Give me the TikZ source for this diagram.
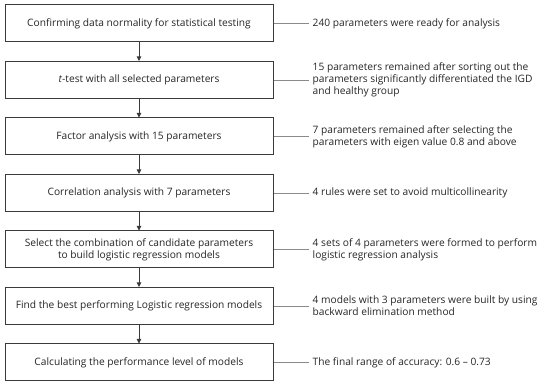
\documentclass[tikz,border=0pt]{standalone}
\usepackage{fontspec}
\setmainfont{Open Sans}
\usepackage{xcolor}
\usetikzlibrary{positioning,arrows.meta}
\definecolor{frame}{HTML}{3A3A3A}
\definecolor{wire}{HTML}{8A8A8A}
\definecolor{ink}{HTML}{262626}
\tikzset{
  stepbox/.style = {rectangle, draw=frame, fill=white, line width=1pt, minimum width=268pt,
                    minimum height=37pt, inner sep=3pt, align=center, text=ink},
  remark/.style  = {anchor=west, inner sep=4pt, align=left, text=ink},
  flow/.style    = {-{Triangle[length=4.5pt,width=4.5pt]}, line width=0.9pt, draw=frame},
  link/.style    = {line width=0.5pt, draw=wire},
}
\begin{document}
\begin{tikzpicture}[x=1pt, y=1pt, node distance=18.5pt, font=\fontsize{10.2}{12.3}\selectfont]
  \useasboundingbox (0,0) rectangle (550,-382);
  \node[stepbox] (normal) at (139,-23.5) {Confirming data normality for statistical testing};
  \node[stepbox, below=of normal] (ttest) {\textit{t}-test with all selected parameters};
  \node[stepbox, below=of ttest] (factor) {Factor analysis with 15 parameters};
  \node[stepbox, below=of factor] (corr) {Correlation analysis with 7 parameters};
  \node[stepbox, below=of corr] (combo) {Select the combination of candidate parameters\\to build logistic regression models};
  \node[stepbox, below=of combo] (best) {Find the best performing Logistic regression models};
  \node[stepbox, below=of best] (perf) {Calculating the performance level of models};
  % outcomes on the right
  \node[remark, right=35pt of normal] (rnormal) {240 parameters were ready for analysis};
  \node[remark, right=35pt of ttest] (rttest) {15 parameters remained after sorting out the\\parameters significantly differentiated the IGD\\and healthy group};
  \node[remark, right=35pt of factor] (rfactor) {7 parameters remained after selecting the\\parameters with eigen value 0.8 and above};
  \node[remark, right=35pt of corr] (rcorr) {4 rules were set to avoid multicollinearity};
  \node[remark, right=35pt of combo] (rcombo) {4 sets of 4 parameters were formed to perform\\logistic regression analysis};
  \node[remark, right=35pt of best] (rbest) {4 models with 3 parameters were built by using\\backward elimination method};
  \node[remark, right=35pt of perf] (rperf) {The final range of accuracy: 0.6 -- 0.73};
  \draw[flow] (normal) -- (ttest);
  \draw[flow] (ttest) -- (factor);
  \draw[flow] (factor) -- (corr);
  \draw[flow] (corr) -- (combo);
  \draw[flow] (combo) -- (best);
  \draw[flow] (best) -- (perf);
  \foreach \s in {normal,ttest,factor,corr,combo,best,perf}
    \draw[link] (\s.east) -- (r\s.west);
\end{tikzpicture}
\end{document}
